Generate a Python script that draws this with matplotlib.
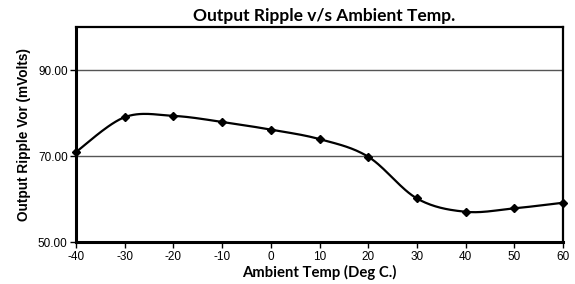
import matplotlib
matplotlib.use('Agg')
import matplotlib.pyplot as plt
import numpy as np

plt.rcParams['axes.unicode_minus'] = False

# data
temps = [-40, -30, -20, -10, 0, 10, 20, 30, 40, 50, 60]
ripple = [71.0, 79.1, 79.4, 78.0, 76.2, 74.0, 69.9, 60.2, 57.1, 57.9, 59.2]
x_ticks = [-40, -30, -20, -10, 0, 10, 20, 30, 40, 50, 60]
y_ticks = [50, 70, 90]


def smooth(xs, ys, n=30):
    # excel style smoothed line (bezier, control points at 1/6 of neighbours)
    pts = np.column_stack([xs, ys]).astype(float)
    out = []
    for i in range(len(pts) - 1):
        p0 = pts[i - 1] if i > 0 else pts[i]
        p1 = pts[i]
        p2 = pts[i + 1]
        p3 = pts[i + 2] if i + 2 < len(pts) else pts[i + 1]
        c1 = p1 + (p2 - p0) / 6
        c2 = p2 - (p3 - p1) / 6
        t = np.linspace(0, 1, n)[:, None]
        seg = ((1 - t) ** 3 * p1 + 3 * (1 - t) ** 2 * t * c1
               + 3 * (1 - t) * t ** 2 * c2 + t ** 3 * p2)
        out.append(seg if i == 0 else seg[1:])
    out = np.vstack(out)
    return out[:, 0], out[:, 1]


fig = plt.figure(figsize=(5.75, 2.84), dpi=100)
ax = fig.add_axes([76 / 575, 1 - 242.3 / 284, 487 / 575, 215 / 284])

sx, sy = smooth(temps, ripple)
ax.plot(sx, sy, color='black', lw=1.6, zorder=3, clip_on=False)
ax.plot(temps, ripple, ls='none', marker='D', ms=4.2, color='black',
        zorder=4, clip_on=False)

ax.set_xlim(-40, 60)
ax.set_ylim(50, 100)
ax.set_xticks(x_ticks)
ax.set_yticks(y_ticks)
ax.set_yticklabels(['%.2f' % v for v in y_ticks])
ax.yaxis.grid(True, color='#555555', lw=1)
ax.set_axisbelow(True)

for lab in ax.get_xticklabels() + ax.get_yticklabels():
    lab.set_family('Liberation Sans')
    lab.set_fontsize(8.5)
ax.tick_params(direction='out', length=4, width=1, pad=2)

for s in ['left', 'bottom']:
    ax.spines[s].set_linewidth(2.2)
for s in ['top', 'right']:
    ax.spines[s].set_linewidth(1.6)

ax.set_xlabel('Ambient Temp (Deg C.)', family='Lato',
              fontweight='bold', fontsize=10.7, labelpad=2)
ax.set_ylabel('Output Ripple Vor (mVolts)', family='Liberation Sans',
              fontweight='bold', fontsize=9.8, labelpad=5)
fig.text(324 / 575, 1 - 16 / 284, 'Output Ripple v/s Ambient Temp.',
         family='Lato', fontweight='bold', fontsize=12.5,
         ha='center', va='center')

fig.savefig('out.png', dpi=100)
